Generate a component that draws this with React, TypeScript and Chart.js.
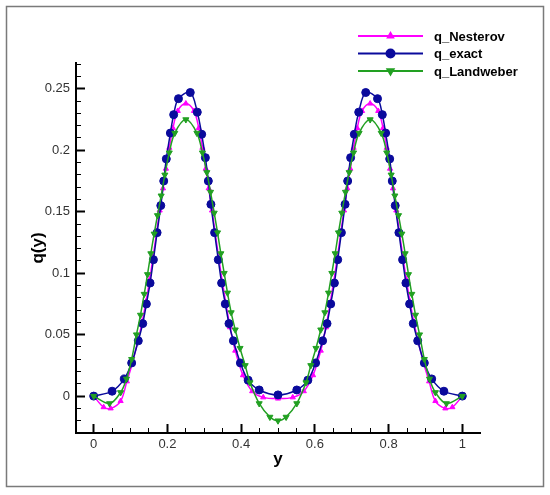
import React, { useRef, useEffect } from 'react';
import { Chart, registerables } from 'chart.js';
import { drawPoint } from 'chart.js/helpers';

Chart.register(...registerables);

// y positions (marker positions) and q(y) values
const yExact = [
  0, 0.05, 0.083, 0.103, 0.121, 0.133, 0.143, 0.153, 0.162, 0.172, 0.182, 0.19, 0.197, 0.208, 0.217, 0.23,
  0.262, 0.281, 0.293, 0.303, 0.311, 0.318, 0.328, 0.338, 0.347, 0.357, 0.367, 0.379, 0.398, 0.419, 0.449, 0.5,
  0.551, 0.581, 0.602, 0.621, 0.633, 0.643, 0.653, 0.662, 0.672, 0.682, 0.689, 0.697, 0.707, 0.719, 0.738,
  0.77, 0.783, 0.792, 0.803, 0.81, 0.818, 0.828, 0.838, 0.847, 0.857, 0.867, 0.879, 0.897, 0.917, 0.95, 1,
];
const qExact = [
  0, 0.004, 0.014, 0.027, 0.045, 0.059, 0.075, 0.092, 0.111, 0.133, 0.155, 0.175, 0.193, 0.214, 0.229, 0.242,
  0.247, 0.231, 0.213, 0.194, 0.175, 0.156, 0.133, 0.111, 0.092, 0.075, 0.059, 0.045, 0.027, 0.013, 0.005, 0.001,
  0.005, 0.013, 0.027, 0.045, 0.059, 0.075, 0.092, 0.111, 0.133, 0.156, 0.175, 0.194, 0.213, 0.231, 0.247,
  0.242, 0.229, 0.214, 0.193, 0.175, 0.155, 0.133, 0.111, 0.092, 0.075, 0.059, 0.045, 0.027, 0.014, 0.004, 0,
];

const yNesterov = [
  0, 0.027, 0.046, 0.073, 0.09, 0.105, 0.12, 0.132, 0.142, 0.152, 0.161, 0.17, 0.179, 0.188, 0.196, 0.205, 0.215,
  0.228, 0.25, 0.272, 0.285, 0.295, 0.304, 0.312, 0.321, 0.33, 0.34, 0.349, 0.359, 0.37, 0.384, 0.405, 0.43, 0.46,
  0.5,
  0.54, 0.57, 0.595, 0.616, 0.63, 0.641, 0.651, 0.66, 0.67, 0.679, 0.688, 0.696, 0.705, 0.715, 0.728, 0.75, 0.772,
  0.785, 0.795, 0.804, 0.812, 0.821, 0.83, 0.839, 0.848, 0.858, 0.868, 0.88, 0.895, 0.91, 0.927, 0.954, 0.973, 1,
];
const qNesterov = [
  0, -0.009, -0.01, -0.004, 0.012, 0.027, 0.045, 0.061, 0.077, 0.095, 0.113, 0.132, 0.151, 0.169, 0.185, 0.202, 0.218,
  0.232, 0.238, 0.232, 0.218, 0.202, 0.185, 0.169, 0.151, 0.132, 0.111, 0.093, 0.075, 0.056, 0.037, 0.017, 0.004, -0.001,
  -0.002,
  -0.001, 0.004, 0.017, 0.037, 0.056, 0.075, 0.093, 0.111, 0.132, 0.151, 0.169, 0.185, 0.202, 0.218, 0.232, 0.238, 0.232,
  0.218, 0.202, 0.185, 0.169, 0.151, 0.132, 0.113, 0.095, 0.077, 0.061, 0.045, 0.027, 0.012, -0.004, -0.01, -0.009, 0,
];

const yLandweber = [
  0, 0.043, 0.073, 0.089, 0.103, 0.116, 0.127, 0.137, 0.146, 0.155, 0.164, 0.173, 0.183, 0.193, 0.205, 0.22, 0.25,
  0.28, 0.295, 0.307, 0.317, 0.327, 0.336, 0.345, 0.354, 0.363, 0.373, 0.384, 0.397, 0.411, 0.424, 0.449, 0.478, 0.5,
  0.522, 0.551, 0.576, 0.589, 0.603, 0.616, 0.627, 0.637, 0.646, 0.655, 0.664, 0.673, 0.683, 0.693, 0.705, 0.72,
  0.75, 0.78, 0.795, 0.807, 0.817, 0.827, 0.836, 0.845, 0.854, 0.863, 0.873, 0.884, 0.897, 0.911, 0.927, 0.957, 1,
];
const qLandweber = [
  0, -0.006, 0.003, 0.014, 0.03, 0.05, 0.066, 0.083, 0.099, 0.116, 0.132, 0.147, 0.163, 0.18, 0.198, 0.214, 0.225,
  0.214, 0.198, 0.182, 0.166, 0.149, 0.133, 0.116, 0.1, 0.084, 0.068, 0.054, 0.039, 0.025, 0.011, -0.006, -0.017, -0.02,
  -0.017, -0.006, 0.011, 0.025, 0.039, 0.054, 0.068, 0.084, 0.1, 0.116, 0.133, 0.149, 0.166, 0.182, 0.198, 0.214,
  0.225, 0.214, 0.198, 0.18, 0.163, 0.147, 0.132, 0.116, 0.099, 0.083, 0.066, 0.05, 0.03, 0.014, 0.003, -0.006, 0,
];

const seriesNames = ['q_Nesterov', 'q_exact', 'q_Landweber'];
const seriesColors = ['#ff00ff', '#0a0a9c', '#22a022'];

const FONT = 'Arial, "Liberation Sans", sans-serif';

const isMajor = (v: number, step: number) => Math.abs(v / step - Math.round(v / step)) < 1e-6;
const fmt = (v: number) => String(parseFloat(v.toFixed(3)));

const pts = (xs: number[], ys: number[]) => xs.map((x, i) => ({ x, y: ys[i] }));

// white page and the thin frame round the picture
const framePlugin = {
  id: 'frame',
  beforeDraw(chart: any) {
    const { ctx, width, height } = chart;
    ctx.save();
    ctx.fillStyle = '#fff';
    ctx.fillRect(0, 0, width, height);
    ctx.strokeStyle = '#7a7a7a';
    ctx.lineWidth = 1.5;
    ctx.strokeRect(6.5, 6.5, 537, 480);
    ctx.restore();
  },
};

// tecplot style legend: line with the marker in its middle
const legendPlugin = {
  id: 'tecLegend',
  afterDraw(chart: any) {
    const { ctx, chartArea } = chart;
    chart.data.datasets.forEach((ds: any, i: number) => {
      const y = chartArea.top - 27 + i * 17.5;
      const x0 = chartArea.right - 122;
      const x1 = chartArea.right - 57;
      ctx.save();
      ctx.strokeStyle = ds.borderColor;
      ctx.fillStyle = ds.borderColor;
      ctx.lineWidth = 2;
      ctx.beginPath();
      ctx.moveTo(x0, y);
      ctx.lineTo(x1, y);
      ctx.stroke();
      drawPoint(ctx, {
        pointStyle: ds.pointStyle,
        rotation: ds.pointRotation || 0,
        radius: ds.pointRadius,
        borderWidth: 1,
      }, (x0 + x1) / 2, y);
      ctx.fillStyle = '#000';
      ctx.font = `bold 13px ${FONT}`;
      ctx.textBaseline = 'middle';
      ctx.textAlign = 'left';
      ctx.fillText(ds.label, chartArea.right - 46, y + 1);
      ctx.restore();
    });
  },
};

const axisGrid = (major: number, minorOffset: number) => ({
  drawOnChartArea: false,
  drawTicks: true,
  tickLength: -9,
  tickColor: '#000',
  tickWidth: (c: any) => (c.tick && isMajor(c.tick.value, major) ? 2 : 1),
  tickBorderDash: (c: any) => (c.tick && isMajor(c.tick.value, major) ? [] : [6, 30]),
  tickBorderDashOffset: (c: any) => (c.tick && isMajor(c.tick.value, major) ? 0 : minorOffset),
});

export default function App() {
  const canvasRef = useRef<HTMLCanvasElement>(null);

  useEffect(() => {
    if (!canvasRef.current) return;
    const common = { borderWidth: 1.5, tension: 0.35, pointBorderWidth: 1 };
    const chart = new Chart(canvasRef.current, {
      type: 'line',
      data: {
        datasets: [
          {
            ...common,
            label: seriesNames[0],
            data: pts(yNesterov, qNesterov),
            borderColor: seriesColors[0],
            backgroundColor: seriesColors[0],
            pointStyle: 'triangle',
            pointRadius: 3,
            order: 2,
          },
          {
            ...common,
            label: seriesNames[1],
            data: pts(yExact, qExact),
            borderColor: seriesColors[1],
            backgroundColor: seriesColors[1],
            pointStyle: 'circle',
            pointRadius: 4,
            order: 1,
          },
          {
            ...common,
            label: seriesNames[2],
            data: pts(yLandweber, qLandweber),
            borderColor: seriesColors[2],
            backgroundColor: seriesColors[2],
            pointStyle: 'triangle',
            pointRotation: 180,
            pointRadius: 3.5,
            order: 0,
          },
        ],
      },
      options: {
        animation: false,
        responsive: true,
        maintainAspectRatio: false,
        events: [],
        layout: { padding: { left: 0, top: 63, right: 70, bottom: 0 } },
        plugins: { legend: { display: false }, tooltip: { enabled: false } },
        scales: {
          x: {
            type: 'linear',
            min: -0.048,
            max: 1.048,
            afterFit: (s: any) => { s.height = 62; },
            border: { display: true, color: '#000', width: 2 },
            grid: axisGrid(0.2, 0),
            ticks: {
              stepSize: 0.05,
              autoSkip: false,
              includeBounds: false,
              maxRotation: 0,
              padding: 13,
              color: '#333',
              font: { family: FONT, size: 13 },
              callback: (v: any) => (isMajor(v, 0.2) ? fmt(v) : ''),
            },
            title: {
              display: true,
              text: 'y',
              color: '#000',
              font: { family: FONT, size: 17, weight: 'bold' },
              padding: { top: 0, bottom: 25 },
            },
          },
          y: {
            type: 'linear',
            min: -0.03,
            max: 0.271,
            afterFit: (s: any) => { s.width = 76; },
            border: { display: true, color: '#000', width: 2 },
            grid: axisGrid(0.05, 32),
            ticks: {
              stepSize: 0.01,
              autoSkip: false,
              includeBounds: false,
              padding: 15,
              color: '#333',
              font: { family: FONT, size: 13 },
              callback: (v: any) => (isMajor(v, 0.05) ? fmt(v) : ''),
            },
            title: {
              display: true,
              text: 'q(y)',
              color: '#000',
              font: { family: FONT, size: 17, weight: 'bold' },
              padding: { top: 28, bottom: 0 },
            },
          },
        },
      },
      plugins: [framePlugin, legendPlugin],
    });
    return () => chart.destroy();
  }, []);

  return (
    <div style={{ position: 'fixed', left: 0, top: 0, width: 550, height: 495, background: '#fff' }}>
      <canvas ref={canvasRef} />
    </div>
  );
}
